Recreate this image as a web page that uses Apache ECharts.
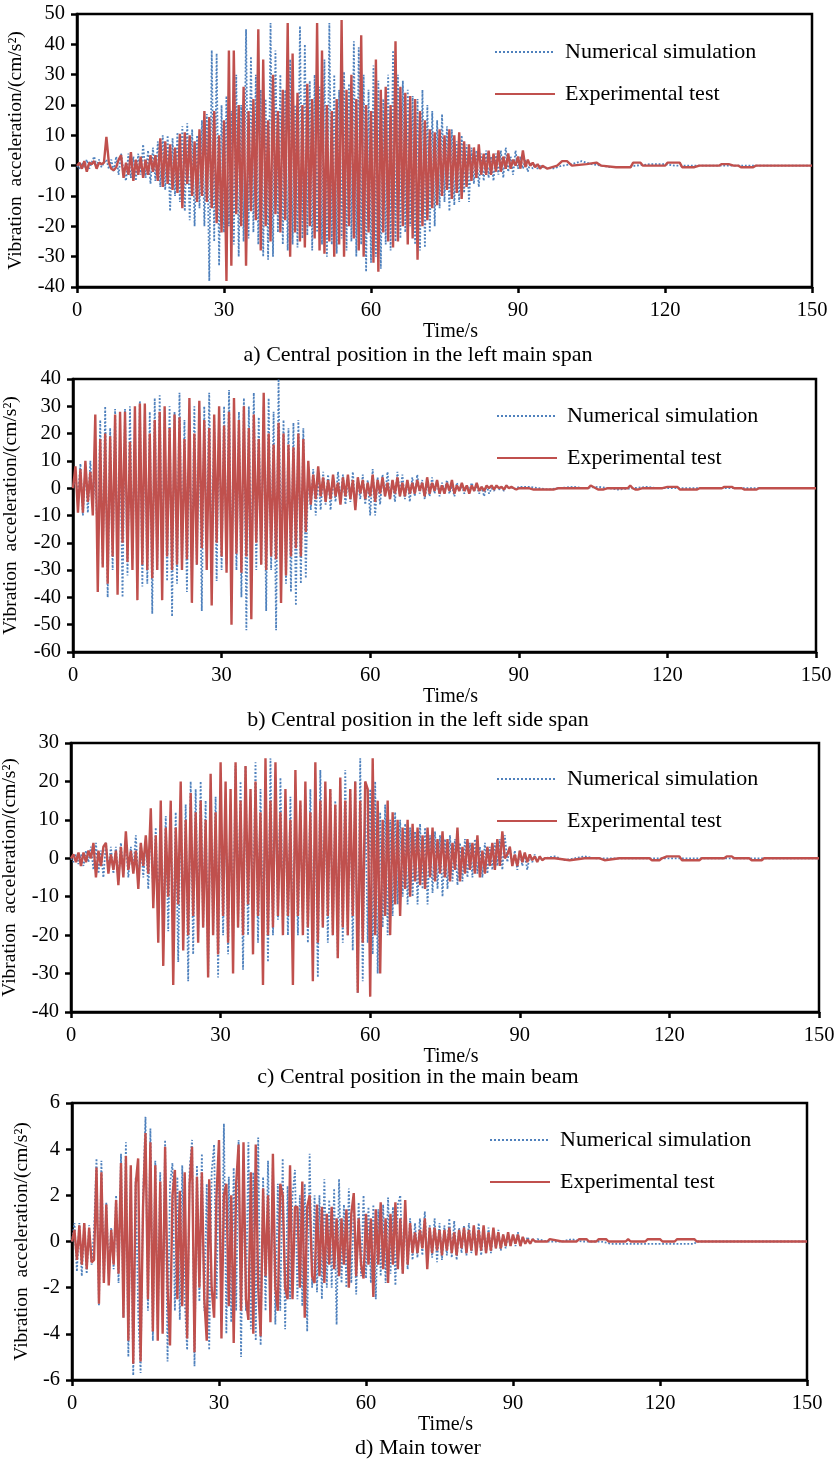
<!DOCTYPE html>
<html><head><meta charset="utf-8">
<script src="https://cdn.jsdelivr.net/npm/echarts/dist/echarts.min.js"></script>
<style>html,body{margin:0;padding:0;background:#fff}#c{width:836px;height:1461px}</style>
</head><body><div id="c"></div>
<script>
// ---------- data ----------
const STEP = 0.5; // sampling step (s) of the dense arrays, starting at t = 0
const SERIES_NAMES = ['Numerical simulation', 'Experimental test'];
const CAPTIONS = ['a) Central position in the left main span', 'b) Central position in the left side span', 'c) Central position in the main beam', 'd) Main tower'];
const X_NAME = 'Time/s';
const Y_NAME = 'Vibration  acceleration/(cm/s\u00B2)';
const X_RANGE = [0, 150, 30];
const Y_RANGES = [[-40, 50, 10], [-60, 40, 10], [-40, 30, 10], [-6, 6, 2]];

// panel a
const NUM_A = [0,-1,1,-0.5,2,-1,1,3,0,2,-0.5,
1,2,-1,2,-2,3,-3,4,-2,-5,
4,-4,3,-5,4,-3,7,-4,5,-6,
6,-5,8,-7,10,-8,10,-15,9,-10,
11,-12,13,-15,14,-18,12,-20,10,-14,
15,-20,17,-38,38,-25,37,-33,20,-22,
23,-20,18,-26,30,-30,20,-25,45,-24,
36,-22,30,-26,25,-30,22,-31,47,-30,
38,-22,30,-26,25,-28,35,-26,20,-27,
46,-24,40,-23,28,-28,30,-22,26,-26,
35,-30,47,-26,30,-29,25,-24,31,-28,
27,-25,41,-30,39,-26,30,-35,25,-32,
33,-30,28,-34,22,-26,30,-28,38,-25,
30,-24,28,-22,25,-20,23,-26,22,-28,
25,-27,20,-22,18,-20,15,-14,17,-12,
13,-15,12,-13,8,-12,10,-9,7,-12,
6,-6,5,-7,4,-5,5,-4,3,-5,
4,-3,5,-4,6,-2,3,-3,5,-1,
3,-1,2,-2,1,-1,0.5,-1,0,-0.5];
const NUM_A_TAIL = [[97,-1],[99,0],[101,0.5],[103,1.5],[105,0.5],[107,0],[109,-0.5],[112,-0.5],[114,0],[117,0.5],[120,0.5],[122,0],[150,0]];
const EXP_A = [0,1,-1,1.5,-2,1,0.5,1.5,-1,1,0.5,
1,9.5,1,-1,-1.5,-0.5,2,3.5,-4,1,
-3,4.5,-5,2,-3,3,-4,2,-3,3.5,
-2,3.5,-5,9,-7,8,-6,7,-8,6,
-9,10.5,-14,11,-6,10,-10,8,-12,12,
-10,18,-12,16,-14,18,-19,10,-22,15,
-38,38,-33,38,-16,20,-20,26,-33,18,
-15,22,-18,45,-28,35,-20,15,-25,30,
-16,18,-22,25,-18,47,-30,37,-22,24,
-25,20,-27,27,-20,22,-24,47,-28,38,
-29,20,-25,18,-30,22,-26,48,-30,25,
-20,30,-24,22,-28,43,-30,20,-22,18,
-32,35,-35,25,-22,26,-25,20,-27,41,
-25,26,-20,24,-26,23,-24,22,-31,18,
-20,15,-18,12,-14,11,-13,12,-10,10,
-8,12,-11,10,-9,11,-11,8,-7,7,
-5,6,-4,7,-3,4,-3,5,-3,4,
-2,5,-2,3,-1,4,-1,2,0,3,
-1,5,-0.5,2,0,1,-0.5,0.5,-1,0];
const EXP_A_TAIL = [[96,-1],[98,0],[99,1.5],[100,1.5],[101,0],[104,0.5],[106,1],[107,0],[110,-0.5],[113,-0.5],[113.5,1],[115,1],[115.5,0],[120,0],[120.5,1],[123,1],[123.5,-0.5],[126,-0.5],[127,0],[131,0],[131.5,0.5],[133,0.5],[134,0],[135,0],[135.5,-0.5],[138,-0.5],[138.5,0],[150,0]];

// panel b
const NUM_B = [0,5,-4,9,-10,8,-9,10,-6,5,-20,
25,-28,30,-40,22,-30,29,-25,20,-40,
29,-32,30,-26,24,-30,32,-36,27,-35,
28,-46,33,-30,34,-30,26,-34,30,-47,
28,-35,35,-30,25,-38,20,-33,30,-28,
28,-45,30,-25,35,-30,26,-34,28,-30,
30,-28,36,-35,24,-30,28,-40,33,-52,
30,-35,35,-30,26,-28,30,-45,33,-30,
28,-52,40,-30,25,-35,22,-38,24,-43,
25,-35,22,-33,8,-8,7,-10,5,-8,
6,-6,5,-8,4,-5,6,-4,5,-6,
4,-5,6,-7,3,-4,5,-6,3,-10,
7,-10,4,-6,5,-3,6,-4,3,-5,
6,-3,5,-4,3,-5,4,-3,5,-2,
3,-4,2,-3,4,-2,3,-3,2,-1,
3,-2,1,-3,2,-1,1,-2,1,-1,
2,-1,1,-2,0.5,-3,1,-2,0,-1,
1,-0.5,0.5,-1,1,0,0.5,-0.5,0,0.5];
const NUM_B_TAIL = [[92,0.5],[94,0],[96,-0.5],[98,0],[101,0.5],[103,0],[106,0.5],[108,0],[110,-0.5],[113,0],[116,0.5],[118,0],[150,0]];
const EXP_B = [0,8,-9,7,-9,10,-5,6,-10,27,-38,
18,-29,20,-35,19,-25,27,-39,28,-20,
28,-27,17,-30,30,-41,31,-28,31,-30,
20,-33,25,-30,28,-41,30,-25,22,-30,
27,-28,26,-30,18,-26,33,-42,20,-28,
32,-22,25,-30,22,-43,27,-20,30,-25,
23,-31,28,-50,33,-24,25,-31,30,-25,
22,-48,27,-20,18,-28,35,-30,20,-25,
16,-26,24,-42,20,-32,16,-25,15,-22,
20,-25,18,-16,10,-6,5,-4,8,-3,
4,-5,3,-4,5,-3,2,-6,4,-3,
5,-4,3,-8,4,-2,3,-4,2,-3,
5,-5,3,-2,4,-3,2,-4,3,-2,
4,-3,2,-3,3,-2,2,-2,3,-1,
2,-3,4,-2,2,-1,3,-2,1,-2,
2,-1,3,-2,1,-1,2,-1,1,-2,
1,-1,2,-1,0.5,-1,1,0,1,-0.5,
1,0,0.5,-0.5,1,0,0.5,0,-0.5,0];
const EXP_B_TAIL = [[92,0],[93,-0.5],[97,-0.5],[98,0],[104,0],[104.5,1],[106,-0.5],[107,-0.5],[108,0],[112,0],[112.5,1],[113,0],[113.5,-0.5],[114,-0.5],[115,0],[119,0],[120,0.5],[122,0.5],[122.5,-0.5],[126,-0.5],[126.5,0],[131,0],[131.5,0.5],[133,0.5],[133.5,0],[135,0],[135.5,-0.5],[138,-0.5],[138.5,0],[150,0]];

// panel c
const NUM_C = [0,-1,1,-1.5,1,-2,2,-1,3,-3,4,
-4,2,-5,4,-3,3,-4,3,-6,4,
-4,5,-5,3,-3,6,-6,4,-5,5,
-8,10,-10,8,-15,10,-20,11,-19,12,
-22,12,-27,15,-20,14,-32,20,-25,18,
-20,20,-18,15,-31,18,-20,16,-31,18,
-20,15,-25,14,-22,24,-18,20,-29,24,
-20,16,-18,25,-22,18,-20,14,-27,26,
-20,18,-16,21,-18,14,-20,16,-24,18,
-20,14,-18,16,-22,18,-25,12,-31,23,
-18,16,-22,18,-20,15,-26,18,-22,23,
-20,18,-24,20,-35,26,-32,15,-22,18,
-25,20,-30,12,-18,14,-20,10,-15,12,
-12,10,-10,9,-12,8,-10,7,-12,9,
-8,8,-12,6,-9,7,-8,6,-10,5,
-8,6,-6,5,-7,4,-6,5,-5,4,
-5,5,-4,3,-5,4,-4,3,-3,4,
-2,5,-3,6,-1,3,-2,2,-3,2,
-2,1,-3,1,-1,1,-1,0.5,-0.5,0];
const NUM_C_TAIL = [[97,0.5],[99,-0.5],[101,0],[103,0.5],[105,0],[150,0]];
const EXP_C = [0,1,-1,1.5,-2,1.5,-1,2,0,4,-5,
2,-2,3,4,-4,1,-3,2,-7,3,
-5,7,-3,2,-4,2,-8,4,-2,6,
-4,13,-13,6,-22,15,-28,8,-10,15,
-33,8,-12,20,-24,10,-20,17,-15,12,
-22,15,-18,10,-31,22,-20,12,-25,25,
-15,20,-22,18,-30,25,-18,15,-20,24,
-12,18,-25,20,-15,12,-33,26,-20,15,
-18,25,-15,12,-20,18,-15,10,-33,23,
-15,15,-20,20,-18,12,-32,25,-22,15,
-18,20,-15,18,-20,14,-26,21,-18,15,
-20,18,-15,20,-35,15,-22,20,18,-36,
26,-20,15,-30,10,-15,15,-20,12,-12,
10,-15,8,-8,10,-10,9,-6,8,-7,
6,-8,8,-5,8,-6,5,-4,7,-5,
5,-6,4,-3,8,-6,3,-4,5,-3,
4,-4,6,-5,2,-4,3,-2,4,-3,
5,-2,7,0,1,3,-2,1,-2,2,
-1,1.5,-1,1,-0.5,0.5,-1,0.5,-0.5,0];
const EXP_C_TAIL = [[97,0],[100,-0.5],[103,0],[106,0],[107,-0.5],[110,0],[116,0],[116.5,-0.5],[118,-0.5],[118.5,0],[119.5,0.5],[122,0.5],[122.5,-0.5],[126,-0.5],[126.5,0],[131,0],[131.5,0.5],[132.5,0.5],[133,0],[136,0],[136.5,-0.5],[138.5,-0.5],[139,0],[150,0]];

// panel d
const NUM_D = [0,0.8,-1.3,0.8,-1.5,0.8,-1.4,0.7,-1,0.5,3.6,
-2.8,3.5,-1.8,1.7,-1.5,0.6,-1.2,2,-1.8,3.8,
-3.3,4.3,-5,3,-5.8,2.8,-3,-5.7,2,5.4,
-3,4.9,-4.3,3.5,-3.8,3,-3.5,4.4,-5.2,2.5,
3.4,-3,2.8,-3.4,3.3,-2.5,-4.7,3.1,4.4,-5.4,
3.3,-2.6,3.8,-3,2.5,-4.7,3,4.2,-2.5,3.5,
-3.2,5.1,-4,2.8,-3.5,3.2,-3,4.4,-5,3.5,
-3,4.3,-3.8,3,-4.3,4.5,-4.5,2.8,-3,3.5,
-2.5,3.5,-3.6,2.5,-3,3.6,-3.8,2.4,-2.5,2,
3.1,-2.5,2,-2.8,2.5,-3.9,3.8,-2,2,-2.2,
2,-2.5,2.7,-2,1.8,-2,2.3,-3.6,2.7,-1.8,
1.6,-2,2.3,-1.8,1.5,-2.3,1.7,-1.5,2,-1.6,
1.5,-1.8,1.6,-2.5,1.4,-1.5,1.6,-1.8,1.9,-1.4,
1.5,-1.9,1.6,2,-1.4,1.3,-1.2,1,-0.8,0.8,
-0.7,1,-0.6,1.3,-0.8,0.7,-0.7,1,-0.9,0.8,
-0.8,0.7,-0.6,1,-0.7,0.9,-0.8,0.6,-0.5,0.7,
-0.6,0.8,-0.5,0.6,-0.4,0.8,-0.6,0.5,-0.5,0.6,
-0.5,0.5,-0.3,0.5,-0.4,0.3,-0.3,0.3,-0.2,0.3,
-0.2,0.4,-0.2,0.2,-0.1,0.2,-0.1,0.1,0,0.1];
const NUM_D_TAIL = [[97,0],[100,0],[102,0.1],[104,0],[108,0],[110,-0.1],[127,-0.1],[127.5,0],[150,0]];
const EXP_D = [0,0.5,-0.8,0.7,-1,0.8,-1.2,0.6,-0.9,-0.8,3.2,
-2.7,3,-1.8,1.6,-1.9,0.5,-1,1.8,-1.4,3.4,
-3.3,3.7,-4.3,3.3,-5.3,2.5,3.6,-5.2,1.5,4.7,
-2.5,4.3,-3.9,3.3,-4.3,2.6,-4,4.1,-2,-4.5,
2,3.1,-2.5,2.2,-2.8,3,-4.2,2.5,4.1,-4.8,
2.8,-2,3,-2.5,-4.3,2.7,-2,-3.3,2,4.4,
-4.2,2,2.5,-2.8,2,-4.4,2.5,4.2,-3,4.3,
-2.5,-3.4,3,-4,4.2,-2,-4.1,2.3,-1.5,2,
-3.5,3.8,-2,-3,2.5,2,-2,-2.5,3.3,-2.5,
1.5,1.5,-2,2.6,-3.3,1.5,2,-1.5,-1.8,1.6,
-1.5,1.5,-1.8,1.2,-1,1.5,-1.2,1,-1.5,1,
-1,1.4,-2,1.2,2.1,-1.5,1,-1,-1.6,1.2,
-1,1,-2.4,1.4,-1,1.7,-1.2,1,-1.8,1.2,
-1,1.7,-1.2,1,-1.4,1.8,-1,0.8,-0.5,0.4,
-0.5,0.5,-0.3,1,-1.2,0.6,-0.5,0.6,-0.4,0.5,
-0.6,0.5,-0.4,0.6,-0.5,0.4,-0.6,0.5,-0.3,0.6,
-0.5,0.5,-0.4,0.7,-0.6,0.5,-0.4,0.7,-0.5,0.4,
-0.4,0.6,-0.3,0.4,-0.3,0.3,-0.2,0.4,-0.2,0.3,
-0.1,0.3,-0.2,0.2,-0.1,0.1,-0.1,0.1,0,0];
const EXP_D_TAIL = [[97,0],[97.5,0.1],[100,0],[103,0],[103.5,0.1],[105,0.1],[105.5,0],[107,0],[107.5,0.1],[109,0.1],[109.5,0],[113,0],[113.5,0.1],[114,0],[117,0],[117.5,0.1],[120,0.1],[120.5,0],[123,0],[123.5,0.1],[127,0.1],[127.5,0],[150,0]];

const NUM_ALL = [[NUM_A, NUM_A_TAIL], [NUM_B, NUM_B_TAIL], [NUM_C, NUM_C_TAIL], [NUM_D, NUM_D_TAIL]];
const EXP_ALL = [[EXP_A, EXP_A_TAIL], [EXP_B, EXP_B_TAIL], [EXP_C, EXP_C_TAIL], [EXP_D, EXP_D_TAIL]];

// ---------- layout (pixels) ----------
const PANELS = [
  { left: 77, top: 14, width: 735, height: 273, yGap: 51, xGap: 31, capTop: 343, legLeft: 494, legTop: 41 },
  { left: 73, top: 379, width: 743, height: 273, yGap: 52, xGap: 28, capTop: 708, legLeft: 496, legTop: 405 },
  { left: 71, top: 743, width: 748, height: 269, yGap: 51, xGap: 28, capTop: 1065, legLeft: 496, legTop: 768 },
  { left: 72, top: 1103, width: 735, height: 277, yGap: 40, xGap: 30, capTop: 1436, legLeft: 489, legTop: 1129 }
];

const FONT = '"Liberation Serif", "Times New Roman", serif';
const BLUE = '#4F81BD';
const RED = '#C0504D';

function build(arr, tail) {
  return arr.map((v, i) => [i * STEP, v]).concat(tail);
}

const grid = [], xAxis = [], yAxis = [], series = [], legend = [], title = [];
PANELS.forEach((p, k) => {
  grid.push({ left: p.left, top: p.top, width: p.width, height: p.height, show: true,
    borderColor: '#000', borderWidth: 2.5, backgroundColor: '#fff', outerBoundsMode: 'none', containLabel: false });
  xAxis.push({ type: 'value', gridIndex: k, min: X_RANGE[0], max: X_RANGE[1], interval: X_RANGE[2],
    name: X_NAME, nameLocation: 'middle', nameGap: p.xGap,
    nameTextStyle: { fontFamily: FONT, fontSize: 20, color: '#000', padding: [0, 0, 0, 12] },
    axisLine: { show: true, onZero: false, lineStyle: { color: '#000', width: 2.5 } },
    axisTick: { show: true, inside: false, length: 6, lineStyle: { color: '#000', width: 2.5 } },
    axisLabel: { fontFamily: FONT, fontSize: 20.5, color: '#000', margin: 13 },
    splitLine: { show: false } });
  const yr = Y_RANGES[k];
  yAxis.push({ type: 'value', gridIndex: k, min: yr[0], max: yr[1], interval: yr[2],
    name: Y_NAME, nameLocation: 'middle', nameGap: p.yGap,
    nameTextStyle: { fontFamily: FONT, fontSize: 19.5, color: '#000' },
    axisLine: { show: true, onZero: false, lineStyle: { color: '#000', width: 2.5 } },
    axisTick: { show: true, inside: false, length: 6, lineStyle: { color: '#000', width: 2.5 } },
    axisLabel: { fontFamily: FONT, fontSize: 20.5, color: '#000', margin: 12 },
    splitLine: { show: false } });
  series.push({ type: 'line', name: SERIES_NAMES[0], xAxisIndex: k, yAxisIndex: k, symbol: 'none', showSymbol: false,
    data: build(NUM_ALL[k][0], NUM_ALL[k][1]), lineStyle: { color: BLUE, width: 1.8, type: 'dotted' }, itemStyle: { color: BLUE }, z: 2 });
  series.push({ type: 'line', name: SERIES_NAMES[1], xAxisIndex: k, yAxisIndex: k, symbol: 'none', showSymbol: false,
    data: build(EXP_ALL[k][0], EXP_ALL[k][1]), lineStyle: { color: RED, width: 2.4 }, itemStyle: { color: RED }, z: 3 });
  legend.push({ data: SERIES_NAMES, orient: 'vertical', left: p.legLeft, top: p.legTop, padding: 0,
    itemWidth: 60, itemHeight: 14, itemGap: 20, selectedMode: false,
    itemStyle: { opacity: 0, borderWidth: 0 },
    textStyle: { fontFamily: FONT, fontSize: 22, color: '#000', padding: [0, 0, 0, 5] } });
  title.push({ text: CAPTIONS[k], left: 'center', top: p.capTop, padding: 0,
    textStyle: { fontFamily: FONT, fontSize: 22, fontWeight: 'normal', color: '#000', lineHeight: 24 } });
});

const chart = echarts.init(document.getElementById('c'), null, { renderer: 'canvas' });
chart.setOption({ animation: false, backgroundColor: '#fff', title, legend, grid, xAxis, yAxis, series });
</script>
</body></html>
